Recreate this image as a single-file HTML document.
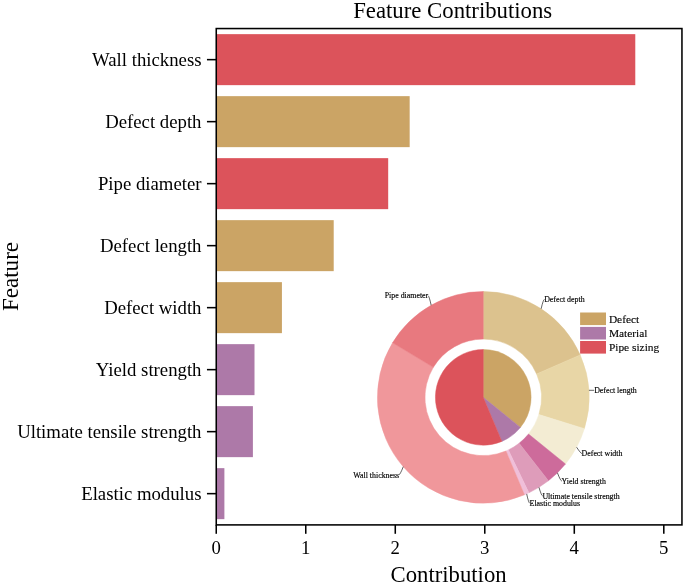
<!DOCTYPE html>
<html><head><meta charset="utf-8"><title>Feature Contributions</title>
<style>html,body{margin:0;padding:0;background:#fff}svg{display:block}svg text{font-family:"Liberation Serif",serif}</style></head>
<body>
<svg width="685" height="584" viewBox="0 0 685 584">
<rect width="685" height="584" fill="#fff"/>
<rect x="216.25" y="34.15" width="419.03" height="51.00" fill="#dc535b"/>
<rect x="216.25" y="96.15" width="193.42" height="51.00" fill="#cba465"/>
<rect x="216.25" y="158.15" width="171.94" height="51.00" fill="#dc535b"/>
<rect x="216.25" y="220.15" width="117.46" height="51.00" fill="#cba465"/>
<rect x="216.25" y="282.15" width="65.67" height="51.00" fill="#cba465"/>
<rect x="216.25" y="344.15" width="38.25" height="51.00" fill="#ad79a8"/>
<rect x="216.25" y="406.15" width="36.65" height="51.00" fill="#ad79a8"/>
<rect x="216.25" y="468.15" width="8.14" height="51.00" fill="#ad79a8"/>
<path d="M483.25,291.50 A105.85,105.85 0 0 1 580.21,354.89 L536.61,373.98 A58.25,58.25 0 0 0 483.25,339.10 Z" fill="#dcc28e" stroke="#dcc28e" stroke-width="0.5" stroke-linejoin="round"/>
<path d="M580.21,354.89 A105.85,105.85 0 0 1 584.36,428.65 L538.89,414.58 A58.25,58.25 0 0 0 536.61,373.98 Z" fill="#e8d6a6" stroke="#e8d6a6" stroke-width="0.5" stroke-linejoin="round"/>
<path d="M584.36,428.65 A105.85,105.85 0 0 1 565.50,463.98 L528.51,434.02 A58.25,58.25 0 0 0 538.89,414.58 Z" fill="#f3ecd3" stroke="#f3ecd3" stroke-width="0.5" stroke-linejoin="round"/>
<path d="M565.50,463.98 A105.85,105.85 0 0 1 548.41,480.77 L519.11,443.26 A58.25,58.25 0 0 0 528.51,434.02 Z" fill="#cd6b9b" stroke="#cd6b9b" stroke-width="0.5" stroke-linejoin="round"/>
<path d="M548.41,480.77 A105.85,105.85 0 0 1 528.90,492.85 L508.37,449.91 A58.25,58.25 0 0 0 519.11,443.26 Z" fill="#de9cba" stroke="#de9cba" stroke-width="0.5" stroke-linejoin="round"/>
<path d="M528.90,492.85 A105.85,105.85 0 0 1 524.44,494.86 L505.92,451.01 A58.25,58.25 0 0 0 508.37,449.91 Z" fill="#f0bfd9" stroke="#f0bfd9" stroke-width="0.5" stroke-linejoin="round"/>
<path d="M524.44,494.86 A105.85,105.85 0 0 1 392.55,342.78 L433.34,367.32 A58.25,58.25 0 0 0 505.92,451.01 Z" fill="#f0979b" stroke="#f0979b" stroke-width="0.5" stroke-linejoin="round"/>
<path d="M392.55,342.78 A105.85,105.85 0 0 1 483.25,291.50 L483.25,339.10 A58.25,58.25 0 0 0 433.34,367.32 Z" fill="#e8797f" stroke="#e8797f" stroke-width="0.5" stroke-linejoin="round"/>
<path d="M483.25,397.35 L483.25,349.55 A47.80,47.80 0 0 1 520.39,427.44 Z" fill="#cba465" stroke="#cba465" stroke-width="0.5" stroke-linejoin="round"/>
<path d="M483.25,397.35 L520.39,427.44 A47.80,47.80 0 0 1 501.85,441.38 Z" fill="#ad79a8" stroke="#ad79a8" stroke-width="0.5" stroke-linejoin="round"/>
<path d="M483.25,397.35 L501.85,441.38 A47.80,47.80 0 1 1 483.25,349.55 Z" fill="#dc535b" stroke="#dc535b" stroke-width="0.5" stroke-linejoin="round"/>
<path d="M431.15,305.21 Q429.20,295.90 427.90,295.60" fill="none" stroke="#111" stroke-width="0.65"/>
<text x="428.20" y="298.46" font-size="7.86" text-anchor="end" fill="#000" stroke="#000" stroke-width="0.15">Pipe diameter</text>
<path d="M541.17,308.75 Q543.20,299.60 544.50,299.30" fill="none" stroke="#111" stroke-width="0.65"/>
<text x="544.20" y="302.16" font-size="7.86" text-anchor="start" fill="#000" stroke="#000" stroke-width="0.15">Defect depth</text>
<path d="M588.93,390.30 L594.20,390.30" fill="none" stroke="#111" stroke-width="0.65"/>
<text x="594.20" y="392.96" font-size="7.86" text-anchor="start" fill="#000" stroke="#000" stroke-width="0.15">Defect length</text>
<path d="M576.62,447.22 Q580.60,453.30 581.90,453.60" fill="none" stroke="#111" stroke-width="0.65"/>
<text x="581.60" y="456.46" font-size="7.86" text-anchor="start" fill="#000" stroke="#000" stroke-width="0.15">Defect width</text>
<path d="M557.43,472.86 Q560.50,480.80 561.80,481.10" fill="none" stroke="#111" stroke-width="0.65"/>
<text x="561.50" y="483.96" font-size="7.86" text-anchor="start" fill="#000" stroke="#000" stroke-width="0.15">Yield strength</text>
<path d="M538.98,487.34 Q541.40,495.70 542.70,496.00" fill="none" stroke="#111" stroke-width="0.65"/>
<text x="542.40" y="498.86" font-size="7.86" text-anchor="start" fill="#000" stroke="#000" stroke-width="0.15">Ultimate tensile strength</text>
<path d="M526.68,493.88 Q528.60,503.00 529.90,503.30" fill="none" stroke="#111" stroke-width="0.65"/>
<text x="529.60" y="506.16" font-size="7.86" text-anchor="start" fill="#000" stroke="#000" stroke-width="0.15">Elastic modulus</text>
<path d="M403.28,466.70 Q400.10,474.70 398.80,475.00" fill="none" stroke="#111" stroke-width="0.65"/>
<text x="399.10" y="477.86" font-size="7.86" text-anchor="end" fill="#000" stroke="#000" stroke-width="0.15">Wall thickness</text>
<rect x="580.1" y="312.50" width="25.9" height="12.6" fill="#cba465"/>
<text x="608.9" y="323.15" font-size="11.4" fill="#000" stroke="#000" stroke-width="0.12">Defect</text>
<rect x="580.1" y="326.90" width="25.9" height="12.6" fill="#ad79a8"/>
<text x="608.9" y="337.35" font-size="11.4" fill="#000" stroke="#000" stroke-width="0.12">Material</text>
<rect x="580.1" y="341.00" width="25.9" height="12.6" fill="#dc535b"/>
<text x="608.9" y="351.15" font-size="11.4" fill="#000" stroke="#000" stroke-width="0.12">Pipe sizing</text>
<rect x="216.25" y="28.55" width="465.70000000000005" height="496.34999999999997" fill="none" stroke="#000" stroke-width="1.55"/>
<line x1="206.95" y1="59.65" x2="216.25" y2="59.65" stroke="#000" stroke-width="1.55"/>
<text x="201.5" y="65.58" font-size="18.75" text-anchor="end" fill="#000">Wall thickness</text>
<line x1="206.95" y1="121.65" x2="216.25" y2="121.65" stroke="#000" stroke-width="1.55"/>
<text x="201.5" y="127.58" font-size="18.75" text-anchor="end" fill="#000">Defect depth</text>
<line x1="206.95" y1="183.65" x2="216.25" y2="183.65" stroke="#000" stroke-width="1.55"/>
<text x="201.5" y="189.58" font-size="18.75" text-anchor="end" fill="#000">Pipe diameter</text>
<line x1="206.95" y1="245.65" x2="216.25" y2="245.65" stroke="#000" stroke-width="1.55"/>
<text x="201.5" y="251.58" font-size="18.75" text-anchor="end" fill="#000">Defect length</text>
<line x1="206.95" y1="307.65" x2="216.25" y2="307.65" stroke="#000" stroke-width="1.55"/>
<text x="201.5" y="313.57" font-size="18.75" text-anchor="end" fill="#000">Defect width</text>
<line x1="206.95" y1="369.65" x2="216.25" y2="369.65" stroke="#000" stroke-width="1.55"/>
<text x="201.5" y="375.57" font-size="18.75" text-anchor="end" fill="#000">Yield strength</text>
<line x1="206.95" y1="431.65" x2="216.25" y2="431.65" stroke="#000" stroke-width="1.55"/>
<text x="201.5" y="437.57" font-size="18.75" text-anchor="end" fill="#000">Ultimate tensile strength</text>
<line x1="206.95" y1="493.65" x2="216.25" y2="493.65" stroke="#000" stroke-width="1.55"/>
<text x="201.5" y="499.57" font-size="18.75" text-anchor="end" fill="#000">Elastic modulus</text>
<line x1="216.25" y1="524.9" x2="216.25" y2="533.8" stroke="#000" stroke-width="1.55"/>
<text x="216.25" y="553.8" font-size="18.75" text-anchor="middle" fill="#000">0</text>
<line x1="305.76" y1="524.9" x2="305.76" y2="533.8" stroke="#000" stroke-width="1.55"/>
<text x="305.76" y="553.8" font-size="18.75" text-anchor="middle" fill="#000">1</text>
<line x1="395.27" y1="524.9" x2="395.27" y2="533.8" stroke="#000" stroke-width="1.55"/>
<text x="395.27" y="553.8" font-size="18.75" text-anchor="middle" fill="#000">2</text>
<line x1="484.78" y1="524.9" x2="484.78" y2="533.8" stroke="#000" stroke-width="1.55"/>
<text x="484.78" y="553.8" font-size="18.75" text-anchor="middle" fill="#000">3</text>
<line x1="574.29" y1="524.9" x2="574.29" y2="533.8" stroke="#000" stroke-width="1.55"/>
<text x="574.29" y="553.8" font-size="18.75" text-anchor="middle" fill="#000">4</text>
<line x1="663.80" y1="524.9" x2="663.80" y2="533.8" stroke="#000" stroke-width="1.55"/>
<text x="663.80" y="553.8" font-size="18.75" text-anchor="middle" fill="#000">5</text>
<text x="452.7" y="17.7" font-size="22.75" text-anchor="middle" fill="#000">Feature Contributions</text>
<text x="448.6" y="582.3" font-size="22.7" text-anchor="middle" fill="#000">Contribution</text>
<text transform="translate(18.1,276.52) rotate(-90)" font-size="23.05" text-anchor="middle" fill="#000">Feature</text>
</svg>
</body></html>
